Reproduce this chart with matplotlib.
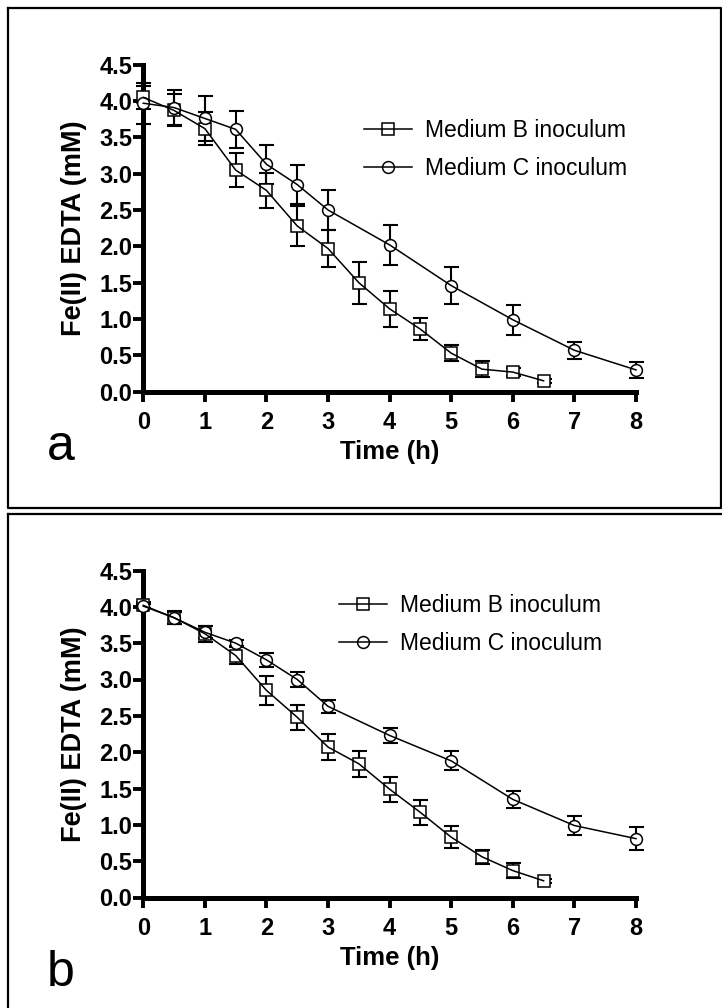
import matplotlib
matplotlib.use("Agg")
import matplotlib.pyplot as plt
from matplotlib.lines import Line2D

plt.rcParams['font.family'] = ['Liberation Sans', 'DejaVu Sans']

# ---------------- data ----------------
time_B = [0, 0.5, 1, 1.5, 2, 2.5, 3, 3.5, 4, 4.5, 5, 5.5, 6, 6.5]
time_C = [0, 0.5, 1, 1.5, 2, 2.5, 3, 4, 5, 6, 7, 8]

a_B = [4.05, 3.87, 3.62, 3.05, 2.77, 2.28, 1.97, 1.50, 1.14, 0.86, 0.53, 0.31, 0.27, 0.15]
a_B_err = [0.16, 0.22, 0.23, 0.23, 0.24, 0.28, 0.25, 0.29, 0.25, 0.15, 0.11, 0.11, 0.05, 0.03]
a_C = [3.97, 3.91, 3.76, 3.61, 3.13, 2.85, 2.50, 2.02, 1.46, 0.99, 0.57, 0.30]
a_C_err = [0.28, 0.24, 0.31, 0.25, 0.27, 0.27, 0.28, 0.27, 0.25, 0.21, 0.12, 0.11]

b_B = [4.02, 3.85, 3.63, 3.33, 2.85, 2.48, 2.07, 1.84, 1.49, 1.17, 0.83, 0.56, 0.37, 0.23]
b_B_err = [0.04, 0.09, 0.11, 0.12, 0.20, 0.17, 0.18, 0.18, 0.17, 0.17, 0.15, 0.10, 0.10, 0.03]
b_C = [4.01, 3.85, 3.65, 3.50, 3.27, 3.00, 2.63, 2.23, 1.88, 1.35, 0.99, 0.81]
b_C_err = [0.03, 0.08, 0.08, 0.04, 0.10, 0.11, 0.09, 0.10, 0.13, 0.12, 0.13, 0.16]

x_ticks = [0, 1, 2, 3, 4, 5, 6, 7, 8]
y_ticks = [0.0, 0.5, 1.0, 1.5, 2.0, 2.5, 3.0, 3.5, 4.0, 4.5]
y_tick_labels = ["0.0", "0.5", "1.0", "1.5", "2.0", "2.5", "3.0", "3.5", "4.0", "4.5"]
series_labels = ["Medium B inoculum", "Medium C inoculum"]
panel_labels = ["a", "b"]
x_label = "Time (h)"
y_label = "Fe(II) EDTA (mM)"

# ---------------- figure ----------------
W, H = 722, 1008
fig = plt.figure(figsize=(W / 100, H / 100), dpi=100)


def px_rect(left, top, right, bottom):
    return [left / W, 1 - bottom / H, (right - left) / W, (bottom - top) / H]


ax_a = fig.add_axes(px_rect(143.3, 64.7, 636.0, 391.7))
ax_b = fig.add_axes(px_rect(143.3, 570.5, 636.0, 897.5))

MS = 8.5
LW = 1.1


def draw_series(ax, t, y, err, marker):
    ax.errorbar(t, y, yerr=err, fmt='none', ecolor='black', elinewidth=1.5,
                capsize=5.4, capthick=1.5, zorder=2, clip_on=False)
    ax.plot(t, y, linestyle='none', marker=marker, ms=MS, mfc='white',
            mec='black', mew=1.1, zorder=3, clip_on=False)
    ax.plot(t, y, color='black', lw=LW, zorder=4, clip_on=False)


def style_axis(ax, legend_xy):
    ax.set_xlim(0, 8)
    ax.set_ylim(0, 4.5)
    for s in ['top', 'right']:
        ax.spines[s].set_visible(False)
    for s in ['left', 'bottom']:
        ax.spines[s].set_linewidth(3.6)
        ax.spines[s].set_capstyle('projecting')
    ax.set_xticks(x_ticks)
    ax.set_xticklabels([str(v) for v in x_ticks])
    ax.set_yticks(y_ticks)
    ax.set_yticklabels(y_tick_labels)
    ax.tick_params(axis='both', direction='out', length=7, width=2.8,
                   labelsize=17)
    ax.tick_params(axis='x', pad=7)
    ax.tick_params(axis='y', pad=1)
    for lab in ax.get_xticklabels() + ax.get_yticklabels():
        lab.set_fontweight('bold')
    ax.set_xlabel(x_label, fontsize=18.5, fontweight='bold')
    ax.xaxis.set_label_coords(0.5, -0.148)
    ax.set_ylabel(y_label, fontsize=19.5, fontweight='bold')
    ax.yaxis.set_label_coords(-0.115, 0.5)
    handles = [
        Line2D([], [], color='black', lw=LW, marker='s', ms=MS, mfc='none',
               mec='black', mew=1.1),
        Line2D([], [], color='black', lw=LW, marker='o', ms=MS, mfc='none',
               mec='black', mew=1.1),
    ]
    ax.legend(handles, series_labels, loc='upper left',
              bbox_to_anchor=legend_xy, frameon=False, fontsize=16.5,
              handlelength=2.1, handletextpad=0.55, labelspacing=0.67,
              borderpad=0, borderaxespad=0)


draw_series(ax_a, time_B, a_B, a_B_err, 's')
draw_series(ax_a, time_C, a_C, a_C_err, 'o')
style_axis(ax_a, (0.448, 0.834))

draw_series(ax_b, time_B, b_B, b_B_err, 's')
draw_series(ax_b, time_C, b_C, b_C_err, 'o')
style_axis(ax_b, (0.397, 0.928))

# panel letters
fig.text(47 / W, 1 - 460 / H, panel_labels[0], fontsize=36, va='baseline',
         ha='left')
fig.text(47 / W, 1 - 986 / H, panel_labels[1], fontsize=36, va='baseline',
         ha='left')

# panel frames
fr = dict(color='black', lw=1.6, transform=fig.transFigure, clip_on=False)
# panel a: full box
xs = [8 / W, 720.5 / W, 720.5 / W, 8 / W, 8 / W]
ys = [1 - 8 / H, 1 - 8 / H, 1 - 507.5 / H, 1 - 507.5 / H, 1 - 8 / H]
fig.add_artist(Line2D(xs, ys, **fr))
# panel b: top and left visible (cut at image edge)
fig.add_artist(Line2D([8 / W, 1.0], [1 - 514 / H, 1 - 514 / H], **fr))
fig.add_artist(Line2D([8 / W, 8 / W], [1 - 514 / H, 0.0], **fr))

fig.savefig("out.png", dpi=100)
